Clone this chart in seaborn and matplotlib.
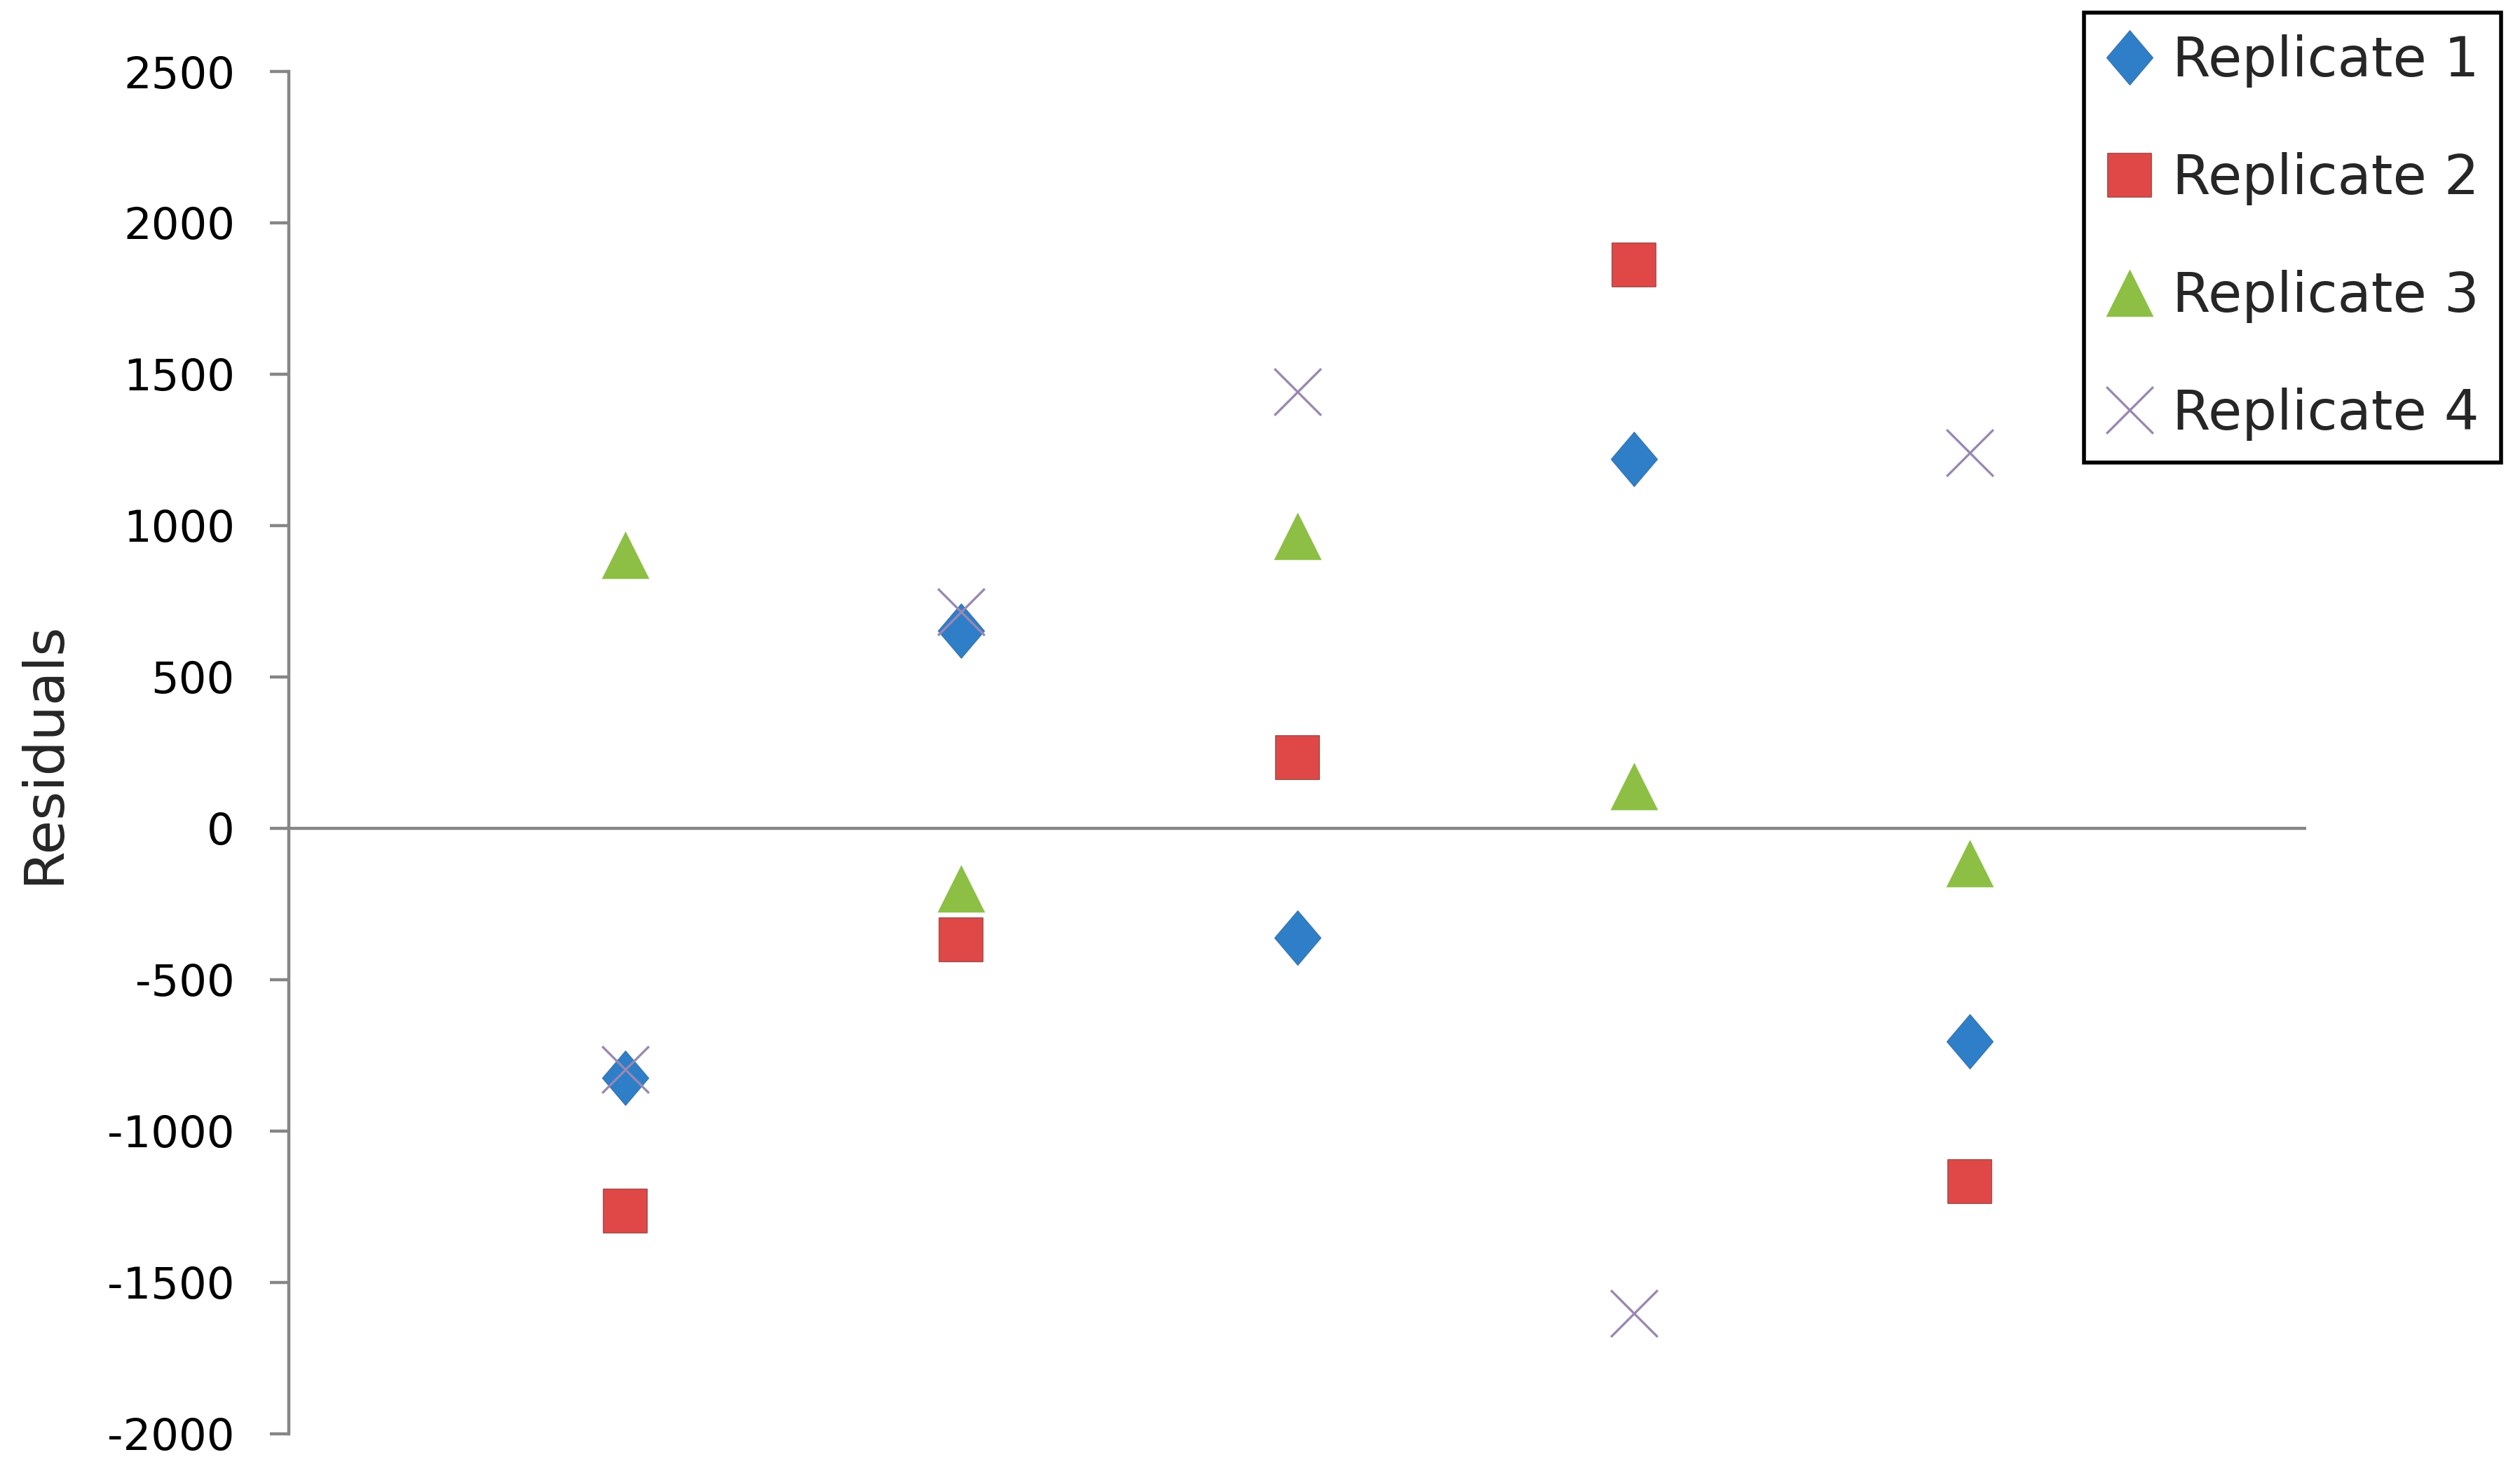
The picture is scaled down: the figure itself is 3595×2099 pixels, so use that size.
import matplotlib
matplotlib.use("Agg")
import matplotlib.pyplot as plt
import seaborn as sns
import pandas as pd
import numpy as np

# ---- data ----
x_pos = [1, 2, 3, 4, 5]
rep1 = [-825, 652, -362, 1220, -705]
rep2 = [-1263, -368, 233, 1861, -1166]
rep3 = [903, -200, 966, 139, -117]
rep4 = [-797, 716, 1442, -1601, 1240]
series_names = ["Replicate 1", "Replicate 2", "Replicate 3", "Replicate 4"]
y_ticks = [-2000, -1500, -1000, -500, 0, 500, 1000, 1500, 2000, 2500]

sns.set_style("white")
plt.rcParams["font.family"] = ["DejaVu Sans"]

fig = plt.figure(figsize=(35.95, 20.99), dpi=100)
ax = fig.add_axes([0.1146, 0.0253, 0.9152 - 0.1146, 0.9514 - 0.0253])

diamond = [(0, 1), (0.85, 0), (0, -1), (-0.85, 0), (0, 1)]

styles = [
    dict(marker=diamond, s=56 ** 2, color="#2E7EC8", edgecolor="#3A72B0", linewidth=0.8),
    dict(marker="s", s=44.6 ** 2, color="#E04848", edgecolor="#B5504D", linewidth=1.5),
    dict(marker="^", s=48 ** 2, color="#8CBF44", edgecolor="#8CBF44", linewidth=0.5),
    dict(marker="x", s=48 ** 2, color="#9988B2", linewidth=2.4),
]
all_series = [rep1, rep2, rep3, rep4]
for name, vals, st in zip(series_names, all_series, styles):
    df = pd.DataFrame({"x": x_pos, "y": vals})
    sns.scatterplot(data=df, x="x", y="y", ax=ax, label=name, zorder=3, **st)

ax.set_xlim(0, 6)
ax.set_ylim(-2000, 2500)
ax.set_yticks(y_ticks)
ax.set_yticklabels([str(v) for v in y_ticks])
ax.set_xticks([])
ax.set_xlabel("")

for s in ["top", "right", "bottom"]:
    ax.spines[s].set_visible(False)
ax.spines["left"].set_color("#868686")
ax.spines["left"].set_linewidth(3.2)
ax.axhline(0, color="#868686", linewidth=3.2, zorder=1)

ax.tick_params(axis="y", direction="out", length=19.5, width=3.2, color="#868686",
               labelsize=45, pad=36, labelcolor="black", left=True)

ax.set_ylabel("Residuals", fontsize=57)
ax.yaxis.label.set_verticalalignment("center")
ax.yaxis.set_label_coords(-0.1216, 0.5)

leg = ax.legend(loc="upper right", bbox_to_anchor=(3568 / 3595, 1 - 18 / 2099),
                bbox_transform=fig.transFigure, fontsize=56.5, frameon=True,
                fancybox=False, shadow=False, borderpad=0.40, handlelength=0.88,
                handletextpad=0.33, labelspacing=1.17, scatteryoffsets=[0.5],
                borderaxespad=0)
leg.get_frame().set_edgecolor("black")
leg.get_frame().set_linewidth(4)
leg.get_frame().set_alpha(1)

fig.savefig("out.png", dpi=100, facecolor="white")
